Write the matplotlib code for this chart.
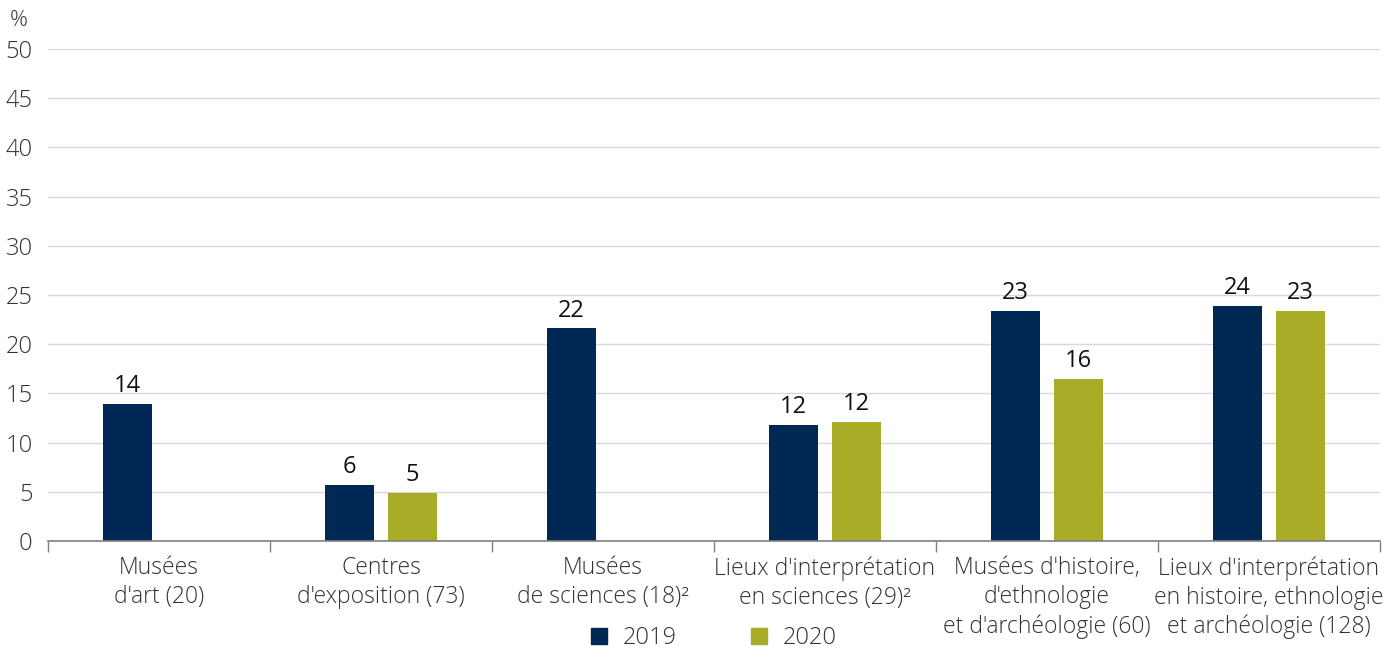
import matplotlib
matplotlib.use("Agg")
import matplotlib.pyplot as plt
import numpy as np
from matplotlib.lines import Line2D

categories = [
    "Musées\nd'art (20)",
    "Centres\nd'exposition (73)",
    "Musées\nde sciences (18)²",
    "Lieux d'interprétation\nen sciences (29)²",
    "Musées d'histoire,\nd'ethnologie\net d'archéologie (60)",
    "Lieux d'interprétation\nen histoire, ethnologie\net archéologie (128)",
]
values_2019 = [13.9, 5.7, 21.6, 11.8, 23.4, 23.9]
values_2020 = [np.nan, 4.9, np.nan, 12.1, 16.5, 23.4]
labels_2019 = ["14", "6", "22", "12", "23", "24"]
labels_2020 = ["", "5", "", "12", "16", "23"]
series_names = ["2019", "2020"]
yticks = [0, 5, 10, 15, 20, 25, 30, 35, 40, 45, 50]

c2019 = "#002855"
c2020 = "#a9ac26"
txt = "#333333"

plt.rcParams['font.family'] = ['Open Sans', 'DejaVu Sans']

fig = plt.figure(figsize=(13.98, 6.5), dpi=100)
ax = fig.add_axes([48/1398, 1-541/650, (1380-48)/1398, (541-49)/650])

x = np.arange(len(categories))
w = 0.225
off = 0.142
ax.bar(x - off, values_2019, w, color=c2019, zorder=3)
ax.bar(x + off, values_2020, w, color=c2020, zorder=3)

for xi, v, l in zip(x - off, values_2019, labels_2019):
    if l:
        ax.text(xi, v + 0.6, l, ha='center', va='bottom', fontsize=17, color='#111111')
for xi, v, l in zip(x + off, values_2020, labels_2020):
    if l:
        ax.text(xi, v + 0.6, l, ha='center', va='bottom', fontsize=17, color='#111111')

ax.set_xlim(-0.5, len(categories) - 0.5)
ax.set_ylim(0, 50)
ax.set_yticks(yticks)
ax.set_yticklabels([str(t) for t in yticks], fontsize=17, color=txt, fontweight='light')
ax.tick_params(axis='y', length=0, pad=11)
ax.grid(axis='y', color='#d9d9d9', linewidth=1, zorder=0)

ax.set_xticks(x)
ax.set_xticklabels(categories, fontsize=16.5, color=txt, fontweight='light', linespacing=1.27)
ax.tick_params(axis='x', length=0, pad=11)
ax.set_xticks(np.arange(len(categories) + 1) - 0.5, minor=True)
ax.tick_params(axis='x', which='minor', length=8, color='#808080', width=1)

for s in ['top', 'right', 'left']:
    ax.spines[s].set_visible(False)
ax.spines['bottom'].set_color('#808080')
ax.spines['bottom'].set_linewidth(1.2)
ax.spines['bottom'].set_zorder(4)

fig.text(10/1398, 1-20/650, "%", fontsize=16, color=txt, fontweight='light', va='center', ha='left')

handles = [Line2D([], [], marker='s', linestyle='none', markersize=11, color=c2019),
           Line2D([], [], marker='s', linestyle='none', markersize=11, color=c2020)]
leg = fig.legend(handles, series_names, loc='center', bbox_to_anchor=(712/1398, 1-638/650),
                 ncol=2, frameon=False, fontsize=17, handletextpad=0.5, columnspacing=3.0,
                 handlelength=1.0)
for t in leg.get_texts():
    t.set_color(txt)
    t.set_fontweight('light')

fig.savefig("out.png", dpi=100)
